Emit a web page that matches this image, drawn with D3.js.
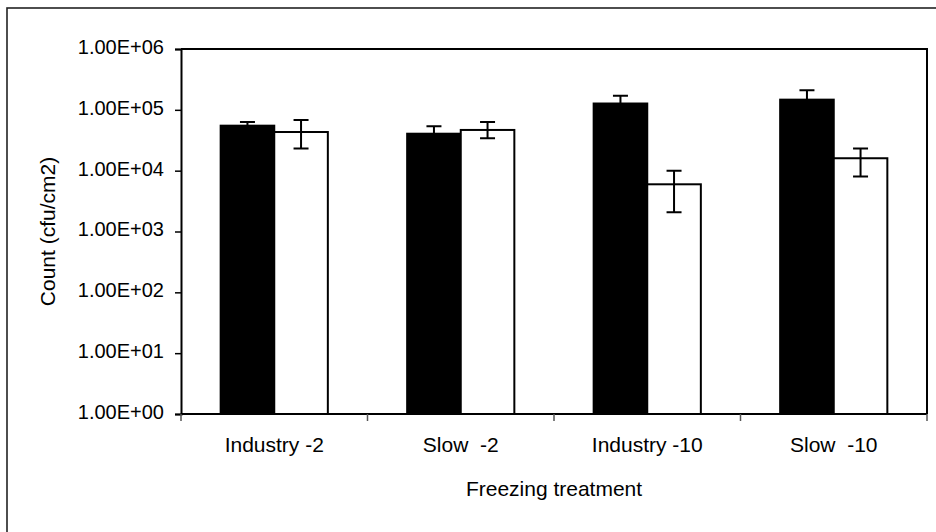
<!DOCTYPE html>
<html>
<head>
<meta charset="utf-8">
<script src="https://cdn.jsdelivr.net/npm/d3@7"></script>
<style>
body { margin: 0; background: #fff; }
text { font-family: "Liberation Sans", Arial, sans-serif; fill: #000; }
</style>
</head>
<body>
<script>
var w = 936, h = 532;

// data
var categories = ["Industry -2", "Slow  -2", "Industry -10", "Slow  -10"];
var series = ["black", "white"];
var blackMean = [54900, 40500, 127000, 147000];
var blackHigh = [63000, 53500, 170000, 209000];
var blackLow  = [47000, 30000, 90000, 100000];
var whiteMean = [43200, 46700, 5970, 16000];
var whiteHigh = [68000, 63000, 10000, 23100];
var whiteLow  = [23200, 34000, 2070, 8000];
var yTicks = [1, 10, 100, 1000, 10000, 100000, 1000000];

var margin = {top: 49, right: 9, bottom: 118, left: 181};

var svg = d3.select("body").append("svg")
	.attr("width", w)
	.attr("height", h)

// outer chart frame
svg.append("rect")
	.attr("x", 7).attr("y", 8)
	.attr("width", 940).attr("height", 540)
	.style("fill", "none")
	.style("stroke", "#222")
	.style("stroke-width", 1.6)

var x0 = d3.scaleBand()
	.domain(categories)
	.range([margin.left, w - margin.right])
	.padding(0)

var x1 = d3.scaleBand()
	.domain(series)
	.range([0, x0.bandwidth()])
	.paddingInner(0)
	.paddingOuter(0.74)

var y = d3.scaleLog()
	.domain([1, 1e6])
	.range([h - margin.bottom, margin.top])

var rows = categories.map(function(c, i){
	return [
		{cat: c, s: "black", v: blackMean[i], hi: blackHigh[i], lo: blackLow[i]},
		{cat: c, s: "white", v: whiteMean[i], hi: whiteHigh[i], lo: whiteLow[i]}
	];
});
var flat = [].concat.apply([], rows);

// plot area frame (top + right)
svg.append("path")
	.attr("d", "M" + margin.left + "," + y(1e6) + "H" + (w - margin.right) + "V" + y(1))
	.style("fill", "none")
	.style("stroke", "#000")
	.style("stroke-width", 2)

svg.selectAll("rect.bar")
	.data(flat)
	.enter()
	.append("rect")
	.attr("class", "bar")
	.attr("x", function(d){ return x0(d.cat) + x1(d.s); })
	.attr("width", x1.bandwidth())
	.attr("y", function(d){ return y(d.v); })
	.attr("height", function(d){ return y(1) - y(d.v); })
	.style("fill", function(d){ return d.s == "black" ? "#000" : "#fff"; })
	.style("stroke", "#000")
	.style("stroke-width", 2)

var cap = 7.5;
var err = svg.selectAll("g.err")
	.data(flat)
	.enter()
	.append("g")
	.attr("class", "err")
	.style("stroke", "#000")
	.style("stroke-width", 2)
	.style("fill", "none")

err.append("path")
	.attr("d", function(d){
		var cx = x0(d.cat) + x1(d.s) + x1.bandwidth() / 2;
		return "M" + cx + "," + y(d.lo) + "V" + y(d.hi)
			+ "M" + (cx - cap) + "," + y(d.hi) + "H" + (cx + cap)
			+ "M" + (cx - cap) + "," + y(d.lo) + "H" + (cx + cap);
	})

// y axis
var yAxis = d3.axisLeft(y)
	.tickValues(yTicks)
	.tickSize(6)
	.tickFormat(function(d){
		var e = Math.round(Math.log10(d));
		return "1.00E+" + (e < 10 ? "0" + e : e);
	})

var gy = svg.append("g")
	.attr("transform", "translate(" + margin.left + ",0)")
	.call(yAxis)
gy.select(".domain").style("stroke", "#000").style("stroke-width", 2)
gy.selectAll(".tick line").style("stroke", "#000").style("stroke-width", 1.5)
gy.selectAll(".tick text")
	.attr("x", -17)
	.attr("dy", "0.22em")
	.style("font-size", "20px")
	.style("font-family", "'Liberation Sans', Arial, sans-serif")

// x axis
var gx = svg.append("g")
	.attr("transform", "translate(0," + y(1) + ")")
gx.append("line")
	.attr("x1", margin.left).attr("x2", w - margin.right)
	.style("stroke", "#000").style("stroke-width", 2)

var bounds = categories.map(function(c){ return x0(c); }).concat([w - margin.right]);
gx.selectAll("line.tk")
	.data(bounds)
	.enter()
	.append("line")
	.attr("class", "tk")
	.attr("x1", function(d){ return d; })
	.attr("x2", function(d){ return d; })
	.attr("y1", 0).attr("y2", 7)
	.style("stroke", "#555").style("stroke-width", 1.5)

gx.selectAll("text.cat")
	.data(categories)
	.enter()
	.append("text")
	.attr("class", "cat")
	.attr("x", function(d){ return x0(d) + x0.bandwidth() / 2; })
	.attr("y", 38)
	.attr("text-anchor", "middle")
	.style("font-size", "21px")
	.style("white-space", "pre")
	.text(function(d){ return d; })

svg.append("text")
	.attr("x", (margin.left + w - margin.right) / 2)
	.attr("y", 496)
	.attr("text-anchor", "middle")
	.style("font-size", "21px")
	.text("Freezing treatment")

svg.append("text")
	.attr("transform", "translate(55," + ((y(1) + y(1e6)) / 2) + ") rotate(-90)")
	.attr("text-anchor", "middle")
	.style("font-size", "21px")
	.text("Count (cfu/cm2)")
</script>
</body>
</html>
